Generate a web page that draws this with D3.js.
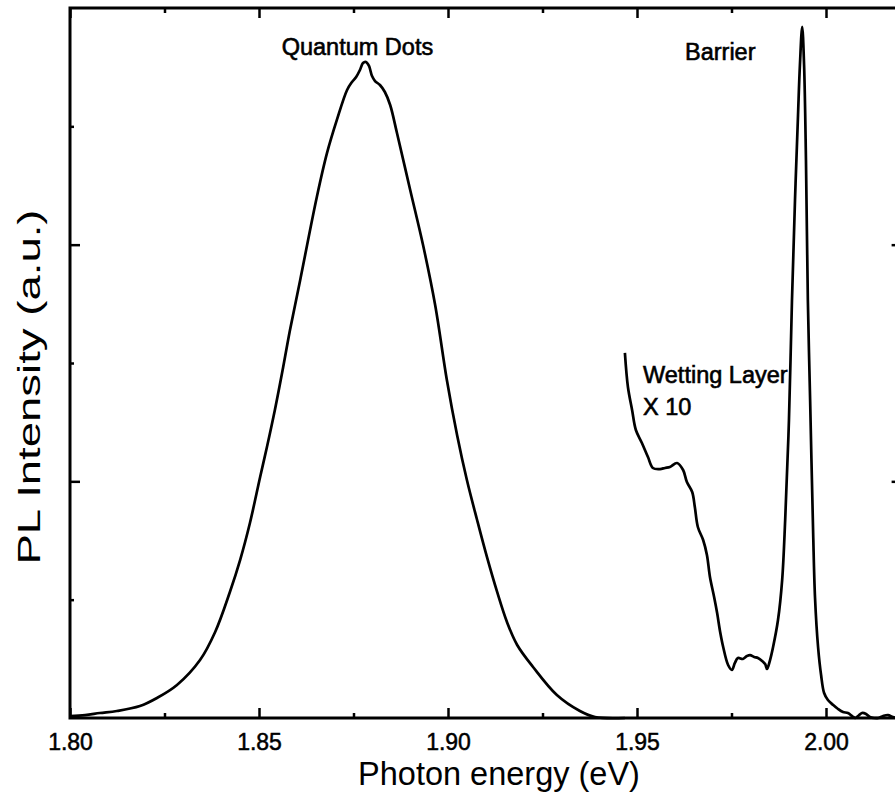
<!DOCTYPE html>
<html>
<head>
<meta charset="utf-8">
<script src="https://cdn.jsdelivr.net/npm/d3@7"></script>
<style>
  html, body { margin: 0; padding: 0; background: #fff; }
  svg { display: block; }
  text { font-family: "Liberation Sans", Arial, Helvetica, sans-serif; fill: #000; }
</style>
</head>
<body>
<svg id="chart" width="895" height="793"></svg>
<script>
// Quantum-dot PL band (as recorded, 1x)
const qdEnergy = [1.8000, 1.8040, 1.8079, 1.8124, 1.8185, 1.8230, 1.8283, 1.8344, 1.8384, 1.8423,
  1.8450, 1.8476, 1.8503, 1.8521, 1.8542, 1.8564, 1.8582, 1.8609, 1.8653, 1.8680,
  1.8706, 1.8733, 1.8746, 1.8757, 1.8767, 1.8775, 1.8783, 1.8791, 1.8799, 1.8807,
  1.8820, 1.8833, 1.8847, 1.8865, 1.8900, 1.8934, 1.8966, 1.8997, 1.9024,
  1.9050, 1.9077, 1.9103, 1.9130, 1.9156, 1.9183, 1.9225, 1.9288, 1.9349, 1.9389, 1.9468];
const qdIntensity = [0.017, 0.025, 0.042, 0.059, 0.101, 0.169, 0.279, 0.490, 0.727, 1.065,
  1.335, 1.648, 2.037, 2.290, 2.603, 2.966, 3.279, 3.702, 4.403, 4.775,
  5.054, 5.307, 5.375, 5.417, 5.476, 5.535, 5.544, 5.510, 5.425, 5.383,
  5.349, 5.290, 5.180, 4.944, 4.462, 3.997, 3.490, 2.856, 2.392,
  2.011, 1.673, 1.361, 1.065, 0.811, 0.617, 0.431, 0.194, 0.059, 0.008, 0.000];

// Wetting layer + barrier emission, shown magnified X 10
const wlEnergy = [1.9468, 1.9476, 1.9487, 1.9497, 1.9513, 1.9529, 1.9542, 1.9561, 1.9574, 1.9587,
  1.9606, 1.9622, 1.9632, 1.9646, 1.9653, 1.9661, 1.9675, 1.9685, 1.9693, 1.9704,
  1.9712, 1.9720, 1.9728, 1.9741, 1.9751, 1.9759, 1.9767, 1.9780, 1.9791, 1.9799,
  1.9810, 1.9820, 1.9831, 1.9839, 1.9844, 1.9852, 1.9860, 1.9873, 1.9884, 1.9892,
  1.9902, 1.9910, 1.9918, 1.9926, 1.9931, 1.9937, 1.9942, 1.9947, 1.9952, 1.9958,
  1.9966, 1.9971, 1.9979, 1.9987, 1.9995, 2.0005, 2.0019, 2.0032, 2.0045, 2.0058,
  2.0069, 2.0077, 2.0085, 2.0095, 2.0106, 2.0116, 2.0127, 2.0138, 2.0151, 2.0164,
  2.0177, 2.0190];
const wlIntensity = [3.085, 2.797, 2.603, 2.434, 2.324, 2.205, 2.113, 2.104, 2.113, 2.121,
  2.155, 2.096, 1.994, 1.910, 1.783, 1.614, 1.504, 1.378, 1.192, 1.023,
  0.887, 0.727, 0.600, 0.448, 0.406, 0.465, 0.507, 0.499, 0.524, 0.532,
  0.516, 0.507, 0.482, 0.456, 0.414, 0.490, 0.600, 0.828, 1.166, 1.673,
  2.518, 3.532, 4.378, 5.096, 5.518, 5.840, 5.518, 4.716, 3.532, 2.687,
  1.563, 1.014, 0.600, 0.363, 0.211, 0.152, 0.110, 0.076, 0.051, 0.042,
  0.017, 0.000, 0.017, 0.042, 0.034, 0.008, 0.000, 0.000, 0.017, 0.025,
  0.008, 0.000];

// Axis ticks
const xMajorTicks = [1.80, 1.85, 1.90, 1.95, 2.00];
const xMinorTicks = [1.825, 1.875, 1.925, 1.975];
const yMajorTicks = [2, 4];
const yMinorTicks = [1, 3, 5];

// Annotations, anchored at the start of each text baseline
const labelText = ["Quantum Dots", "Barrier", "Wetting Layer", "X 10"];
const labelEnergy = [1.8560, 1.9627, 1.9516, 1.9516];
const labelIntensity = [5.603, 5.561, 2.831, 2.561];

const svg = d3.select("#chart");
const x = d3.scaleLinear().domain([1.80, 2.02]).range([70, 901.6]);
const y = d3.scaleLinear().domain([0, 6]).range([718, 8]);

const FONT = '"Liberation Sans", Arial, Helvetica, sans-serif';

function styleAxis(g) {
  g.attr("font-family", FONT);
  g.select(".domain").remove();
  g.selectAll(".tick line").attr("stroke", "#000").attr("stroke-width", 2.5);
}

// bottom axis with labels
svg.append("g")
  .attr("transform", `translate(0,${y(0)})`)
  .call(d3.axisBottom(x).tickValues(xMajorTicks).tickSizeInner(-10).tickSizeOuter(0)
    .tickPadding(16).tickFormat(d3.format(".2f")))
  .call(styleAxis)
  .call(g => g.selectAll(".tick text").attr("font-size", 23).attr("fill", "#000")
    .attr("stroke", "#000").attr("stroke-width", 0.5));
svg.append("g")
  .attr("transform", `translate(0,${y(0)})`)
  .call(d3.axisBottom(x).tickValues(xMinorTicks).tickSizeInner(-5).tickSizeOuter(0).tickFormat(""))
  .call(styleAxis);

// top axis (ticks only)
svg.append("g")
  .attr("transform", `translate(0,${y(6)})`)
  .call(d3.axisTop(x).tickValues(xMajorTicks).tickSizeInner(-10).tickSizeOuter(0).tickFormat(""))
  .call(styleAxis);
svg.append("g")
  .attr("transform", `translate(0,${y(6)})`)
  .call(d3.axisTop(x).tickValues(xMinorTicks).tickSizeInner(-5).tickSizeOuter(0).tickFormat(""))
  .call(styleAxis);

// left and right axes (ticks only, no values)
svg.append("g")
  .attr("transform", `translate(${x(1.80)},0)`)
  .call(d3.axisLeft(y).tickValues(yMajorTicks).tickSizeInner(-10).tickSizeOuter(0).tickFormat(""))
  .call(styleAxis);
svg.append("g")
  .attr("transform", `translate(${x(1.80)},0)`)
  .call(d3.axisLeft(y).tickValues(yMinorTicks).tickSizeInner(-4).tickSizeOuter(0).tickFormat(""))
  .call(styleAxis);
svg.append("g")
  .attr("transform", `translate(${x(2.02)},0)`)
  .call(d3.axisRight(y).tickValues(yMajorTicks).tickSizeInner(-10).tickSizeOuter(0).tickFormat(""))
  .call(styleAxis);

// frame
svg.append("rect")
  .attr("x", x(1.80)).attr("y", y(6))
  .attr("width", x(2.02) - x(1.80)).attr("height", y(0) - y(6))
  .attr("fill", "none").attr("stroke", "#000").attr("stroke-width", 3);

// spectra
const line = d3.line().x(d => x(d[0])).y(d => y(d[1])).curve(d3.curveCatmullRom.alpha(0.5));
svg.append("path")
  .datum(qdEnergy.map((e, i) => [e, qdIntensity[i]]))
  .attr("d", line).attr("fill", "none").attr("stroke", "#000").attr("stroke-width", 2.7)
  .attr("stroke-linejoin", "round");

// annotation labels
svg.append("g").selectAll("text")
  .data(labelText)
  .join("text")
  .attr("x", (d, i) => x(labelEnergy[i]))
  .attr("y", (d, i) => y(labelIntensity[i]))
  .attr("font-size", 23.5)
  .attr("stroke", "#000").attr("stroke-width", 0.6)
  .text(d => d);

svg.append("path")
  .datum(wlEnergy.map((e, i) => [e, wlIntensity[i]]))
  .attr("d", line).attr("fill", "none").attr("stroke", "#000").attr("stroke-width", 2.7)
  .attr("stroke-linejoin", "round");

// axis titles
svg.append("text")
  .attr("x", 499).attr("y", 785)
  .attr("text-anchor", "middle")
  .attr("font-size", 32.5)
  .text("Photon energy (eV)");

svg.append("text")
  .attr("transform", "translate(40,387) rotate(-90)")
  .attr("text-anchor", "middle")
  .attr("font-size", 31)
  .attr("textLength", 355)
  .attr("lengthAdjust", "spacingAndGlyphs")
  .text("PL Intensity (a.u.)");
</script>
</body>
</html>
